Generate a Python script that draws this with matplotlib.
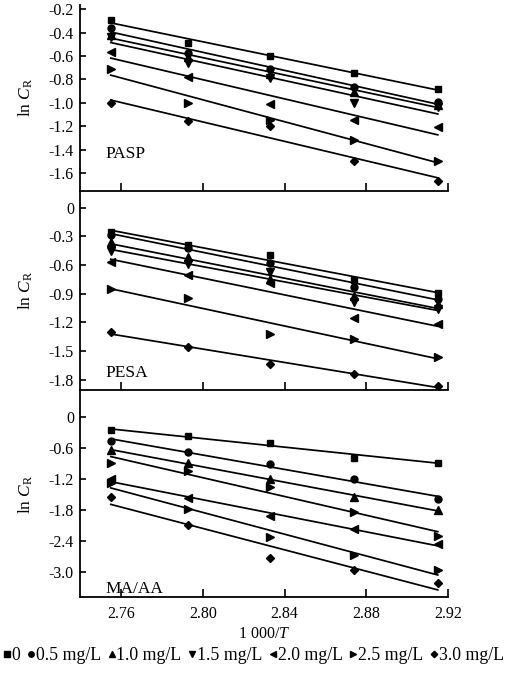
import numpy as np
import matplotlib
matplotlib.use('Agg')
import matplotlib.pyplot as plt
from matplotlib.lines import Line2D
from matplotlib.ticker import FuncFormatter

# 1000/T  (T = 363, 358, 353, 348, 343 K)
inv_t = [2.755, 2.793, 2.833, 2.874, 2.915]

conc_labels = ['0', '0.5 mg/L', '1.0 mg/L', '1.5 mg/L', '2.0 mg/L', '2.5 mg/L', '3.0 mg/L']

# ln C_R, one row per concentration
pasp = [
    [-0.29, -0.485, -0.596, -0.747, -0.881],
    [-0.36, -0.571, -0.710, -0.866, -0.989],
    [-0.42, -0.605, -0.753, -0.904, -1.017],
    [-0.44, -0.661, -0.790, -1.003, -1.037],
    [-0.562, -0.781, -1.012, -1.151, -1.203],
    [-0.713, -0.998, -1.146, -1.316, -1.496],
    [-1.003, -1.160, -1.197, -1.500, -1.666],
]
pesa = [
    [-0.255, -0.395, -0.492, -0.754, -0.894],
    [-0.290, -0.419, -0.576, -0.831, -0.953],
    [-0.360, -0.517, -0.750, -0.928, -1.005],
    [-0.457, -0.586, -0.674, -0.988, -1.057],
    [-0.569, -0.701, -0.785, -1.155, -1.221],
    [-0.855, -0.946, -1.319, -1.371, -1.563],
    [-1.302, -1.459, -1.633, -1.737, -1.867],
]
maaa = [
    [-0.257, -0.374, -0.496, -0.786, -0.883],
    [-0.470, -0.677, -0.916, -1.212, -1.599],
    [-0.644, -0.890, -1.212, -1.548, -1.806],
    [-0.883, -1.045, -1.355, -1.851, -2.303],
    [-1.206, -1.580, -1.916, -2.180, -2.470],
    [-1.290, -1.786, -2.335, -2.677, -2.967],
    [-1.561, -2.096, -2.741, -2.967, -3.213],
]

markers = ['s', 'o', '^', 'v', '<', '>', 'D']
msizes = [5, 5, 5.5, 5.5, 5.5, 5.5, 4.2]

plt.rcParams['font.family'] = 'Liberation Serif'
plt.rcParams['mathtext.fontset'] = 'custom'
plt.rcParams['mathtext.rm'] = 'Liberation Serif'
plt.rcParams['mathtext.it'] = 'Liberation Serif:italic'
plt.rcParams['axes.unicode_minus'] = False

fig = plt.figure(figsize=(5.18, 6.80), dpi=100)
gs = fig.add_gridspec(3, 1, height_ratios=[185.7, 200, 207.3], hspace=0,
                      left=0.1535, right=0.8649, top=0.9926, bottom=0.1216)

panels = [
    ('PASP', pasp, (-1.751, -0.163), [-0.2, -0.4, -0.6, -0.8, -1.0, -1.2, -1.4, -1.6], -1.436, markers),
    ('PESA', pesa, (-1.912, 0.181), [0, -0.3, -0.6, -0.9, -1.2, -1.5, -1.8], -1.73, markers),
    # the 1.5 mg/L points of MA/AA are drawn with right triangles in the original
    ('MA/AA', maaa, (-3.5, 0.52), [0, -0.6, -1.2, -1.8, -2.4, -3.0], -3.335,
     ['s', 'o', '^', '>', '<', '>', 'D']),
]

fmt = FuncFormatter(lambda v, p: '0' if abs(v) < 1e-9 else '%.1f' % v)

for i, (name, data, ylim, yt, ty, mk) in enumerate(panels):
    ax = fig.add_subplot(gs[i])
    ax.patch.set_visible(False)
    for j, ys in enumerate(data):
        ax.plot(inv_t, ys, linestyle='none', marker=mk[j], markersize=msizes[j],
                color='black')
        k, b = np.polyfit(inv_t, ys, 1)
        xe = [inv_t[0], inv_t[-1]]
        ax.plot(xe, np.polyval([k, b], xe), color='black', linewidth=1.25)
    ax.set_xlim(2.7397, 2.92)
    ax.set_ylim(*ylim)
    ax.set_yticks(yt)
    ax.yaxis.set_major_formatter(fmt)
    ax.set_xticks([2.76, 2.80, 2.84, 2.88, 2.92])
    ax.spines['top'].set_visible(False)
    ax.spines['right'].set_visible(False)
    for s in ('left', 'bottom'):
        ax.spines[s].set_linewidth(1.3)
    ax.tick_params(axis='y', direction='in', length=4, width=1.2, labelsize=11.5, pad=4)
    ax.tick_params(axis='x', direction='in', length=6, width=1.2, labelsize=11.5, pad=6)
    if i < 2:
        ax.tick_params(axis='x', labelbottom=False)
    ax.text(2.7525, ty, name, fontsize=12.5, va='center', ha='left')
    ax.set_ylabel(r'ln $\mathit{C}_\mathrm{R}$', fontsize=12.5)
    ax.yaxis.set_label_coords(-0.122, 0.5)
    if i == 2:
        ax.set_xlabel(r'1 000/$\mathit{T}$', fontsize=11.5, labelpad=3)

handles = [Line2D([], [], linestyle='none', marker=markers[j], markersize=msizes[j] * 0.78,
                  color='black') for j in range(7)]
fig.legend(handles, conc_labels, loc='center', bbox_to_anchor=(0.49, 1 - 656 / 680),
           ncol=7, frameon=False, fontsize=12.8, handlelength=0.35, handletextpad=0.1,
           columnspacing=0.42, borderaxespad=0, borderpad=0)

fig.savefig('out.png', dpi=100)
